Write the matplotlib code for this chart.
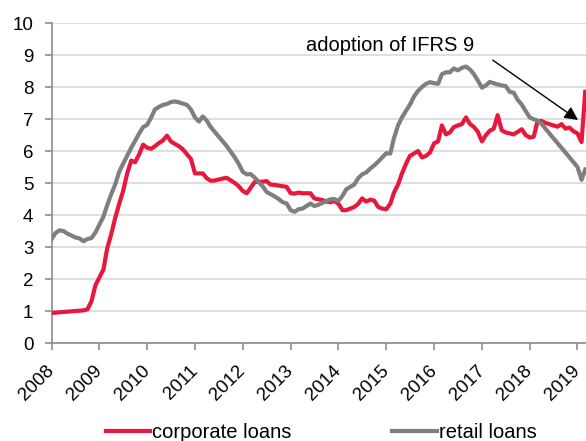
import numpy as np
import pandas as pd
import matplotlib
matplotlib.use('Agg')
import matplotlib.pyplot as plt
import matplotlib.dates as mdates
from matplotlib.transforms import ScaledTranslation

plt.rcParams['font.family'] = ['Liberation Sans', 'DejaVu Sans']

# Monthly NPL ratios (%), Jan 2008 - Mar 2019
corporate = [
    0.94, 0.95, 0.96, 0.97, 0.98, 0.99, 1.00, 1.01, 1.02, 1.05, 1.30, 1.80,   # 2008
    2.05, 2.30, 2.95, 3.40, 3.90, 4.35, 4.75, 5.30, 5.70, 5.65, 5.90, 6.20,   # 2009
    6.10, 6.07, 6.15, 6.25, 6.33, 6.48, 6.30, 6.22, 6.15, 6.05, 5.90, 5.75,   # 2010
    5.30, 5.30, 5.30, 5.15, 5.07, 5.08, 5.11, 5.14, 5.16, 5.08, 5.00, 4.90,   # 2011
    4.75, 4.68, 4.85, 5.03, 5.04, 5.04, 5.06, 4.95, 4.94, 4.92, 4.90, 4.88,   # 2012
    4.68, 4.67, 4.70, 4.68, 4.68, 4.68, 4.52, 4.49, 4.47, 4.42, 4.40, 4.44,   # 2013
    4.35, 4.15, 4.15, 4.20, 4.25, 4.35, 4.52, 4.42, 4.48, 4.45, 4.25, 4.20,   # 2014
    4.18, 4.35, 4.70, 4.95, 5.30, 5.60, 5.85, 5.92, 6.00, 5.80, 5.85, 5.95,   # 2015
    6.24, 6.30, 6.80, 6.52, 6.58, 6.75, 6.80, 6.84, 7.05, 6.85, 6.75, 6.60,   # 2016
    6.30, 6.50, 6.63, 6.70, 7.12, 6.65, 6.58, 6.55, 6.52, 6.60, 6.68, 6.50,   # 2017
    6.42, 6.45, 6.92, 6.94, 6.88, 6.84, 6.80, 6.76, 6.84, 6.70, 6.73, 6.62,   # 2018
    6.55, 6.28, 7.85,                                                         # 2019
]
retail = [
    3.24, 3.44, 3.52, 3.50, 3.42, 3.36, 3.30, 3.27, 3.18, 3.25, 3.28, 3.45,   # 2008
    3.70, 3.95, 4.30, 4.65, 4.95, 5.35, 5.60, 5.85, 6.10, 6.32, 6.55, 6.75,   # 2009
    6.82, 7.05, 7.30, 7.38, 7.44, 7.47, 7.53, 7.55, 7.52, 7.48, 7.44, 7.30,   # 2010
    7.05, 6.92, 7.08, 6.95, 6.75, 6.60, 6.45, 6.30, 6.15, 5.98, 5.80, 5.60,   # 2011
    5.35, 5.27, 5.28, 5.17, 5.03, 4.90, 4.72, 4.65, 4.58, 4.50, 4.40, 4.36,   # 2012
    4.15, 4.10, 4.18, 4.20, 4.28, 4.36, 4.28, 4.32, 4.38, 4.44, 4.49, 4.50,   # 2013
    4.44, 4.60, 4.80, 4.88, 4.95, 5.15, 5.27, 5.33, 5.45, 5.55, 5.67, 5.80,   # 2014
    5.93, 5.92, 6.40, 6.80, 7.05, 7.25, 7.45, 7.70, 7.88, 8.00, 8.10, 8.15,   # 2015
    8.12, 8.10, 8.40, 8.46, 8.46, 8.58, 8.52, 8.60, 8.64, 8.55, 8.40, 8.20,   # 2016
    7.98, 8.05, 8.16, 8.12, 8.08, 8.05, 8.03, 7.85, 7.82, 7.60, 7.45, 7.25,   # 2017
    7.05, 6.99, 6.95, 6.85, 6.70, 6.55, 6.40, 6.25, 6.10, 5.95, 5.80, 5.65,   # 2018
    5.50, 5.10, 5.42,                                                         # 2019
]
dates = pd.date_range('2008-01-01', periods=len(corporate), freq='MS')

red = '#E8173C'
grey = '#7F7F7F'

fig = plt.figure(figsize=(5.86, 4.41), dpi=100)
ax = fig.add_axes([0.0879, 0.2222, 0.9121, 0.7256])

ax.plot(dates, corporate, color=red, linewidth=3.0, label='corporate loans',
        solid_joinstyle='round', zorder=3)
ax.plot(dates, retail, color=grey, linewidth=3.0, label='retail loans',
        solid_joinstyle='round', zorder=3)

ax.set_ylim(0, 10)
ax.set_yticks(range(0, 11))
ax.set_xlim(pd.Timestamp('2008-01-01'), pd.Timestamp('2019-03-07'))
ax.xaxis.set_major_locator(mdates.YearLocator())
ax.xaxis.set_major_formatter(mdates.DateFormatter('%Y'))

ax.grid(axis='y', color='#D9D9D9', linewidth=1.2, zorder=0)
ax.set_axisbelow(True)
for side in ('top', 'right'):
    ax.spines[side].set_visible(False)
for side in ('left', 'bottom'):
    ax.spines[side].set_color('#8C8C8C')
    ax.spines[side].set_linewidth(1.2)
ax.tick_params(axis='both', colors='#8C8C8C', length=5, width=1.2,
               labelcolor='black', labelsize=13.5)
ax.tick_params(axis='y', pad=8)
ax.tick_params(axis='x', pad=9)

# rotated year labels, nudged left so the last one stays inside the figure
shift = ScaledTranslation(-0.06, 0, fig.dpi_scale_trans)
for lbl in ax.get_xticklabels():
    lbl.set_rotation(45)
    lbl.set_ha('right')
    lbl.set_rotation_mode('anchor')
    lbl.set_transform(lbl.get_transform() + shift)

# IFRS 9 annotation with arrow pointing at the jump
ax.annotate('', xy=(pd.Timestamp('2019-01-05'), 6.97),
            xytext=(pd.Timestamp('2017-03-25'), 8.84),
            arrowprops=dict(arrowstyle='-|>', color='black', lw=1.0,
                            mutation_scale=20, shrinkA=0, shrinkB=0))
ax.text(pd.Timestamp('2013-04-25'), 9.31, 'adoption of IFRS 9',
        fontsize=14.5, va='center', ha='left')

fig.legend(loc='center', bbox_to_anchor=(0.548, 0.02), ncol=2,
           frameon=False, fontsize=14.5, handlelength=2.2, handletextpad=0.1,
           columnspacing=5.0, borderpad=0)

fig.savefig('out.png', dpi=100)
